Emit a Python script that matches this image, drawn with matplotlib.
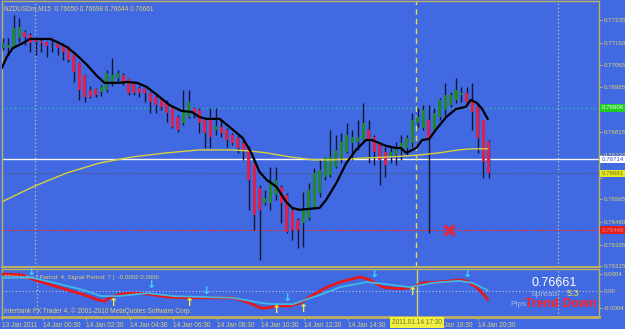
import matplotlib
matplotlib.use('Agg')
import matplotlib.pyplot as plt
import matplotlib.transforms as mtransforms
from matplotlib import font_manager as fm
import numpy as np

# ---------------- data ----------------
header_text = "NZDUSDm,M15  0.76650 0.76698 0.76644 0.76661"

opens = [0.77130, 0.77130, 0.77134, 0.77168, 0.77190, 0.77179, 0.77164, 0.77157, 0.77153, 0.77168,
         0.77145, 0.77138, 0.77130, 0.77104, 0.77074, 0.77029, 0.76973, 0.76977, 0.76966, 0.76973,
         0.77000, 0.77018, 0.77029, 0.77015, 0.77000, 0.76981, 0.76977, 0.76962, 0.76947, 0.76936,
         0.76929, 0.76906, 0.76872, 0.76850, 0.76872, 0.76906, 0.76899, 0.76861, 0.76861, 0.76824,
         0.76835, 0.76824, 0.76805, 0.76794, 0.76775, 0.76756, 0.76700, 0.76607, 0.76551, 0.76551,
         0.76581, 0.76611, 0.76581, 0.76525, 0.76487, 0.76476, 0.76495, 0.76536, 0.76588, 0.76648,
         0.76655, 0.76685, 0.76719, 0.76742, 0.76775, 0.76779, 0.76786, 0.76824, 0.76798, 0.76775,
         0.76742, 0.76723, 0.76730, 0.76749, 0.76756, 0.76775, 0.76850, 0.76831, 0.76861, 0.76824,
         0.76872, 0.76899, 0.76917, 0.76936, 0.76955, 0.76962, 0.76936, 0.76910, 0.76861, 0.76779]
highs = [0.77168, 0.77168, 0.77254, 0.77243, 0.77198, 0.77187, 0.77172, 0.77168, 0.77157, 0.77172,
         0.77149, 0.77149, 0.77138, 0.77108, 0.77078, 0.77033, 0.76988, 0.76981, 0.76992, 0.77048,
         0.77093, 0.77048, 0.77037, 0.77018, 0.77003, 0.76988, 0.76981, 0.76966, 0.76955, 0.76943,
         0.76936, 0.76910, 0.76880, 0.76973, 0.76973, 0.76910, 0.76906, 0.76869, 0.76906, 0.76906,
         0.76861, 0.76831, 0.76813, 0.76801, 0.76786, 0.76764, 0.76712, 0.76618, 0.76599, 0.76685,
         0.76685, 0.76618, 0.76588, 0.76532, 0.76495, 0.76592, 0.76626, 0.76682, 0.76712, 0.76723,
         0.76824, 0.76805, 0.76813, 0.76850, 0.76824, 0.76861, 0.76925, 0.76861, 0.76805, 0.76775,
         0.76760, 0.76760, 0.76779, 0.76805, 0.76805, 0.76887, 0.76906, 0.76917, 0.76917, 0.76906,
         0.76943, 0.77000, 0.76966, 0.77018, 0.76985, 0.76985, 0.77000, 0.76925, 0.76861, 0.76786]
lows = [0.77123, 0.77104, 0.77130, 0.77153, 0.77142, 0.77116, 0.77104, 0.77116, 0.77097, 0.77116,
        0.77104, 0.77086, 0.77078, 0.77003, 0.76936, 0.76929, 0.76943, 0.76947, 0.76951, 0.76966,
        0.76988, 0.77000, 0.76992, 0.76955, 0.76955, 0.76947, 0.76929, 0.76887, 0.76887, 0.76899,
        0.76854, 0.76831, 0.76816, 0.76842, 0.76869, 0.76869, 0.76813, 0.76756, 0.76756, 0.76805,
        0.76798, 0.76760, 0.76768, 0.76738, 0.76712, 0.76525, 0.76450, 0.76338, 0.76543, 0.76525,
        0.76562, 0.76476, 0.76439, 0.76412, 0.76382, 0.76386, 0.76487, 0.76532, 0.76573, 0.76637,
        0.76648, 0.76682, 0.76700, 0.76738, 0.76712, 0.76749, 0.76786, 0.76700, 0.76693, 0.76618,
        0.76648, 0.76700, 0.76693, 0.76712, 0.76730, 0.76760, 0.76835, 0.76824, 0.76439, 0.76816,
        0.76861, 0.76880, 0.76910, 0.76925, 0.76929, 0.76925, 0.76824, 0.76738, 0.76644, 0.76644]
closes = [0.77149, 0.77142, 0.77205, 0.77209, 0.77172, 0.77149, 0.77153, 0.77149, 0.77138, 0.77164,
          0.77130, 0.77116, 0.77086, 0.77041, 0.76973, 0.76947, 0.76947, 0.76955, 0.76985, 0.77037,
          0.77029, 0.77037, 0.77003, 0.76962, 0.76962, 0.76962, 0.76962, 0.76929, 0.76917, 0.76910,
          0.76887, 0.76835, 0.76824, 0.76899, 0.76929, 0.76880, 0.76850, 0.76813, 0.76798, 0.76839,
          0.76813, 0.76786, 0.76775, 0.76756, 0.76749, 0.76637, 0.76506, 0.76525, 0.76569, 0.76626,
          0.76637, 0.76551, 0.76442, 0.76450, 0.76450, 0.76525, 0.76599, 0.76663, 0.76674, 0.76723,
          0.76723, 0.76749, 0.76779, 0.76805, 0.76798, 0.76798, 0.76850, 0.76786, 0.76742, 0.76712,
          0.76693, 0.76742, 0.76756, 0.76775, 0.76794, 0.76861, 0.76872, 0.76899, 0.76786, 0.76887,
          0.76936, 0.76955, 0.76955, 0.76973, 0.76962, 0.76929, 0.76891, 0.76794, 0.76704, 0.76661]

# fast moving average (black), read at bar positions
ma_fast_idx = [-0.2, 0.7, 1.8, 3.7, 4.9, 8.6, 9.9, 11.7, 13.5, 15.4, 17.2, 18.6, 21.4, 22.7, 24.5,
               26.3, 28.2, 30.5, 32.7, 34.6, 36.0, 37.3, 39.7, 41.5, 43.9, 45.5, 47.0, 48.3, 50.1,
               51.9, 53.0, 54.3, 58.0, 59.2, 61.1, 62.9, 64.7, 66.5, 67.6, 70.2, 72.0, 72.9, 73.9,
               75.7, 76.8, 78.1, 79.3, 81.2, 83.0, 84.8, 85.7, 86.8, 87.8, 88.8]
ma_fast_val = [0.77056, 0.77097, 0.77130, 0.77149, 0.77164, 0.77164, 0.77153, 0.77134, 0.77104,
               0.77067, 0.77026, 0.77000, 0.77000, 0.77003, 0.77000, 0.76985, 0.76955, 0.76917,
               0.76895, 0.76891, 0.76872, 0.76865, 0.76865, 0.76835, 0.76794, 0.76738, 0.76667,
               0.76637, 0.76611, 0.76554, 0.76532, 0.76525, 0.76532, 0.76562, 0.76626, 0.76700,
               0.76749, 0.76786, 0.76786, 0.76764, 0.76756, 0.76756, 0.76738, 0.76756, 0.76786,
               0.76790, 0.76824, 0.76872, 0.76902, 0.76910, 0.76936, 0.76925, 0.76902, 0.76865]

# slow moving average (yellow)
ma_slow_idx = [-0.2, 5.5, 11.7, 17.7, 23.8, 30.0, 36.0, 42.0, 45.2, 48.3, 52.5, 56.7, 60.3, 63.4,
               66.5, 71.3, 76.2, 79.9, 83.5, 85.9, 88.8]
ma_slow_val = [0.76555, 0.76611, 0.76663, 0.76700, 0.76723, 0.76738, 0.76749, 0.76749, 0.76745,
               0.76738, 0.76723, 0.76712, 0.76712, 0.76715, 0.76719, 0.76723, 0.76730, 0.76738,
               0.76749, 0.76753, 0.76753]

# TRIX indicator
trix_idx = [-0.5, 3.1, 5.5, 8.6, 11.7, 14.6, 17.2, 18.3, 19.6, 21.4, 23.8, 26.3, 30.0, 33.6, 38.4,
            42.0, 44.6, 47.0, 48.3, 50.1, 52.5, 54.3, 56.7, 59.2, 61.6, 65.3, 67.1, 69.5, 72.6,
            75.0, 76.8, 79.9, 83.5, 84.8, 86.7, 87.8, 88.7]
trix_val = [0.00040, 0.00038, 0.00026, 0.00014, 0.00002, -0.00009, -0.00021, -0.00024, -0.00014,
            -0.00007, -0.00005, -0.00007, -0.00014, -0.00016, -0.00016, -0.00016, -0.00026,
            -0.00040, -0.00040, -0.00035, -0.00035, -0.00028, -0.00009, 0.00009, 0.00021,
            0.00033, 0.00026, 0.00009, 0.00005, 0.00009, 0.00019, 0.00021, 0.00026, 0.00024,
            0.00009, -0.00005, -0.00019]
signal_idx = [-0.5, 4.4, 8.6, 14.6, 17.7, 20.8, 26.3, 31.1, 36.0, 42.0, 47.0, 49.4, 53.0, 55.6,
              58.0, 61.6, 66.5, 70.2, 74.4, 78.6, 83.5, 85.9, 88.7]
signal_val = [0.00031, 0.00033, 0.00021, 0.00002, -0.00012, -0.00012, -0.00005, -0.00012, -0.00014,
              -0.00016, -0.00028, -0.00031, -0.00031, -0.00019, -0.00009, 0.00009, 0.00021,
              0.00016, 0.00009, 0.00019, 0.00024, 0.00019, 0.00002]
sell_arrow_idx = [5, 27, 37, 52, 68, 85]
sell_arrow_val = [0.00045, 0.00014, 0.00000, -0.00016, 0.00040, 0.00040]
buy_arrow_idx = [20, 34, 50, 55, 75]
buy_arrow_val = [-0.00028, -0.00028, -0.00045, -0.00042, -0.00002]

# horizontal levels
level_green = 0.76906
level_white = 0.76714
level_bid = 0.76661
level_red = 0.76449
stop_mark_idx = 81.7

price_ticks = [0.77235, 0.77150, 0.77065, 0.76985, 0.76900, 0.76815, 0.76730, 0.76645,
               0.76565, 0.76480, 0.76395, 0.76315]
hidden_price_ticks = [0.76900, 0.76645]   # covered by the level boxes in the terminal
ind_ticks = [0.0004, 0.0, -0.0004]
ind_tick_labels = ['0.0004', '0.00', '-0.0004']

time_idx = [-0.5, 7, 15, 23, 31, 39, 47, 55, 63, 79, 87]
time_labels = ['13 Jan 2011', '14 Jan 00:30', '14 Jan 02:30', '14 Jan 04:30', '14 Jan 06:30',
               '14 Jan 08:30', '14 Jan 10:30', '14 Jan 12:30', '14 Jan 14:30',
               '14 Jan 18:30', '14 Jan 20:30']
cursor_label = '2011.01.14 17:30'

# ---------------- style ----------------
BG = '#4169e1'
FRAME = '#bfb060'
TXT = '#e0d070'
names = {f.name for f in fm.fontManager.ttflist}
SANS = 'Liberation Sans' if 'Liberation Sans' in names else 'DejaVu Sans'
plt.rcParams['font.family'] = [SANS, 'DejaVu Sans']
FS = 4.4

W, H = 625, 329
fig = plt.figure(figsize=(W / 100, H / 100), dpi=100, facecolor=BG)
ax = fig.add_axes([2 / W, 1 - 267 / H, 597 / W, 266 / H], facecolor=BG)
axi = fig.add_axes([2 / W, 1 - 317 / H, 597 / W, 48 / H], facecolor=BG)

XL = (-0.18, 109.2)
for a in (ax, axi):
    a.set_xlim(*XL)
    for s in a.spines.values():
        s.set_color(FRAME)
        s.set_linewidth(1)
ax.set_ylim(0.76311, 0.77306)
axi.set_ylim(-0.000612, 0.000518)
axi.spines['bottom'].set_linewidth(2)
ax.spines['bottom'].set_linewidth(1.5)

# ---------------- candles ----------------
o = np.array(opens); h = np.array(highs); l = np.array(lows); c = np.array(closes)
idx = np.arange(len(o))
up = c >= o
ax.vlines(idx, l, h, color='#101530', lw=1.0, zorder=3)
body_bottom = np.minimum(o, c)
body_h = np.maximum(np.abs(c - o), 0.00003)
ax.bar(idx[up], body_h[up], bottom=body_bottom[up], width=0.55, color='#1f8a2c', zorder=4, linewidth=0)
ax.bar(idx[~up], body_h[~up], bottom=body_bottom[~up], width=0.55, color='#e0204c', zorder=4, linewidth=0)

ax.plot(ma_slow_idx, ma_slow_val, color='#d8d040', lw=1.0, zorder=5)
ax.plot(ma_fast_idx, ma_fast_val, color='#000000', lw=1.6, zorder=6)

# levels
ax.axhline(level_green, color='#30c0a0', lw=1, ls=(0, (1, 2)), zorder=2)
ax.axhline(level_white, color='#f4f4f4', lw=1, zorder=2)
ax.axhline(level_bid, color='#505060', lw=0.8, ls=(0, (1, 1.5)), zorder=2)
ax.axhline(level_red, color='#e03030', lw=0.8, ls=(0, (3, 2)), zorder=2)
ax.plot([stop_mark_idx], [level_red], marker='x', ms=7, mew=2.5, color='#e02840', zorder=7)

# vertical separators / cursor
for a in (ax, axi):
    for v in (5.85, 101.6):
        a.axvline(v, color='#c8c8a8', lw=0.9, ls=(0, (1, 2)), zorder=1)
ax.axvline(75.7, color='#e8e040', lw=1, ls=(0, (4, 3)), zorder=2)
axi.axvline(75.7, color='#d8d060', lw=1, zorder=2)

# price axis
ax.yaxis.tick_right()
ax.set_yticks(price_ticks)
ax.set_yticklabels(['' if p in hidden_price_ticks else f'{p:.5f}' for p in price_ticks])
ax.tick_params(axis='y', colors=FRAME, labelcolor=TXT, labelsize=FS, length=2, pad=1.2)
ax.set_xticks([])

# price labels on axis
tr = mtransforms.blended_transform_factory(ax.transAxes, ax.transData)
def price_box(val, txt, fc, tc):
    ax.text(1.004, val, txt, transform=tr, ha='left', va='center', fontsize=FS, color=tc,
            zorder=10, clip_on=False,
            bbox=dict(boxstyle='square,pad=0.2', fc=fc, ec='none'))
price_box(level_green, f'{level_green:.5f}', '#22cc22', '#e8ffe8')
price_box(level_white, f'{level_white:.5f}', '#ffffff', '#3050c0')
price_box(level_bid, f'{level_bid:.5f}', '#e8e820', '#707020')
price_box(level_red, f'{level_red:.5f}', '#e02020', '#ff8080')

ax.text(0.003, 0.985, header_text, transform=ax.transAxes, ha='left', va='top', fontsize=FS + 0.3,
        color=TXT)

# ---------------- indicator ----------------
axi.axhline(0, color='#c0c8e0', lw=0.8, ls=(0, (1, 2)), zorder=1)
axi.plot(trix_idx, trix_val, color='#e81818', lw=2.0, zorder=3)
axi.plot(signal_idx, signal_val, color='#40b8e8', lw=1.3, zorder=4)
for xi, yv in zip(sell_arrow_idx, sell_arrow_val):
    axi.text(xi, yv, '\u2193', color='#40d0ff', fontsize=8, fontweight='bold', ha='center',
             va='center', family='DejaVu Sans', zorder=5)
for xi, yv in zip(buy_arrow_idx, buy_arrow_val):
    axi.text(xi, yv, '\u2191', color='#f0f040', fontsize=8, fontweight='bold', ha='center',
             va='center', family='DejaVu Sans', zorder=5)
axi.yaxis.tick_right()
axi.set_yticks(ind_ticks)
axi.set_yticklabels(ind_tick_labels)
axi.tick_params(axis='y', colors=FRAME, labelcolor=TXT, labelsize=FS, length=2, pad=1.2)
axi.set_xticks(time_idx)
axi.set_xticklabels(time_labels)
for lab in axi.get_xticklabels():
    lab.set_ha('left')
axi.tick_params(axis='x', colors=FRAME, labelcolor=TXT, labelsize=FS + 0.3, length=2, pad=1.5)
axi.text(0.003, 0.88, 'TRIX index | Period: 4, Signal Period: 7 |  -0.0002 0.0000',
         transform=axi.transAxes, ha='left', va='top', fontsize=FS, color=TXT)
axi.text(0.003, 0.05, 'Interbank FX Trader 4, \u00a9 2001-2010 MetaQuotes Software Corp.',
         transform=axi.transAxes, ha='left', va='bottom', fontsize=FS + 0.3, color=TXT)

# cursor time label
fig.text(417 / W, 1 - 322.5 / H, cursor_label, ha='center', va='center', fontsize=FS + 0.3,
         color='#707030', bbox=dict(boxstyle='square,pad=0.3', fc='#f0f040', ec='none'), zorder=20)

# info panel text
fig.text(554 / W, 1 - 283.5 / H, '0.76661', ha='center', va='center', fontsize=9,
         color='white')
fig.text(531 / W, 1 - 294 / H, 'Spread:', ha='left', va='center', fontsize=6,
         color='#a8b0e0')
fig.text(567 / W, 1 - 294 / H, '5.3', ha='left', va='center', fontsize=6.5,
         color='#f0e040')
fig.text(510 / W, 1 - 304 / H, 'Pips', ha='left', va='center', fontsize=6,
         color='#a8b0e0')
fig.text(525 / W, 1 - 304 / H, 'Trend Down', ha='left', va='center', fontsize=9,
         color='#ff2020', fontweight='bold')

fig.savefig('out.png', dpi=100, facecolor=BG)
